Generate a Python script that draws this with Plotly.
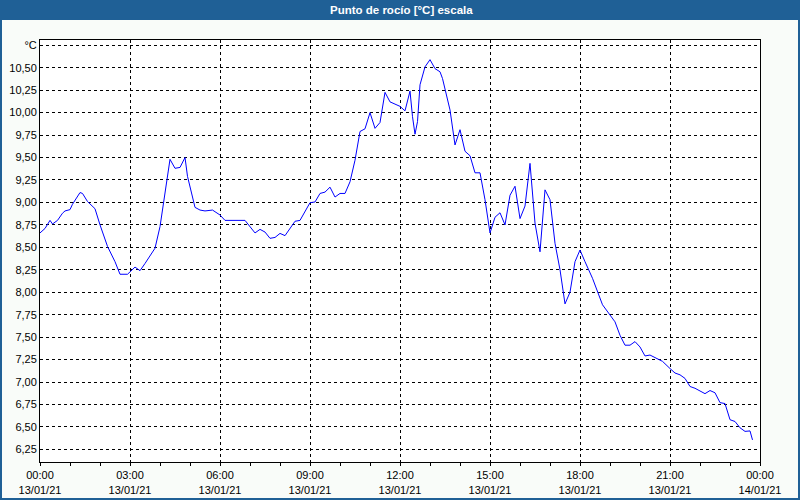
import plotly.graph_objects as go

# minutes after 2021-01-13 00:00
minutes = [0, 10, 20, 25, 35, 45, 50, 60, 65, 80, 85, 95, 110, 120, 135, 150, 160, 175,
           190, 200, 210, 230, 240, 250, 260, 270, 280, 290, 295, 310, 320, 330, 345, 360,
           370, 410, 430, 440, 450, 460, 470, 480, 490, 510, 520, 540, 550, 560, 570, 580,
           590, 600, 610, 620, 630, 640, 650, 660, 670, 680, 690, 700, 710, 720, 730, 740,
           745, 750, 755, 760, 770, 780, 790, 800, 805, 810, 820, 830, 840, 850, 860, 870,
           880, 890, 900, 910, 920, 930, 940, 950, 960, 970, 980, 990, 1000, 1010, 1020,
           1030, 1040, 1050, 1060, 1070, 1080, 1090, 1105, 1125, 1140, 1150, 1160, 1170,
           1180, 1190, 1200, 1210, 1220, 1230, 1245, 1260, 1270, 1280, 1290, 1300, 1310,
           1330, 1340, 1350, 1360, 1370, 1380, 1390, 1400, 1410, 1420, 1425]
dew_point = [8.66, 8.71, 8.80, 8.76, 8.80, 8.88, 8.905, 8.92, 8.98, 9.11, 9.10, 9.01, 8.93,
             8.75, 8.51, 8.34, 8.20, 8.20, 8.28, 8.24, 8.32, 8.49, 8.73, 9.10, 9.48, 9.38,
             9.39, 9.50, 9.29, 8.945, 8.915, 8.905, 8.915, 8.86, 8.80, 8.80, 8.66, 8.70,
             8.67, 8.60, 8.61, 8.655, 8.63, 8.79, 8.80, 8.997, 9.005, 9.10, 9.115, 9.17,
             9.06, 9.10, 9.10, 9.23, 9.47, 9.79, 9.82, 10.00, 9.825, 9.89, 10.226, 10.12,
             10.095, 10.07, 10.02, 10.24, 9.955, 9.76, 9.90, 10.31, 10.51, 10.59, 10.49,
             10.455, 10.38, 10.27, 10.03, 9.64, 9.81, 9.57, 9.52, 9.33, 9.33, 9.03, 8.66,
             8.835, 8.885, 8.75, 9.08, 9.18, 8.82, 8.96, 9.435, 8.77, 8.45, 9.14, 9.03,
             8.545, 8.25, 7.87, 8.00, 8.34, 8.47, 8.34, 8.155, 7.86, 7.75, 7.67, 7.52, 7.41,
             7.41, 7.45, 7.39, 7.29, 7.30, 7.27, 7.23, 7.15, 7.10, 7.08, 7.04, 6.95, 6.93,
             6.87, 6.905, 6.88, 6.77, 6.76, 6.58, 6.56, 6.49, 6.45, 6.455, 6.355]

y_tick_vals = [6.25, 6.50, 6.75, 7.00, 7.25, 7.50, 7.75, 8.00, 8.25, 8.50, 8.75, 9.00,
               9.25, 9.50, 9.75, 10.00, 10.25, 10.50, 10.75]
y_tick_text = ["6,25", "6,50", "6,75", "7,00", "7,25", "7,50", "7,75", "8,00", "8,25",
               "8,50", "8,75", "9,00", "9,25", "9,50", "9,75", "10,00", "10,25", "10,50", "°C"]
x_tick_vals = ["2021-01-13 00:00", "2021-01-13 03:00", "2021-01-13 06:00", "2021-01-13 09:00",
               "2021-01-13 12:00", "2021-01-13 15:00", "2021-01-13 18:00", "2021-01-13 21:00",
               "2021-01-14 00:00"]
x_tick_text = ["00:00<br>13/01/21", "03:00<br>13/01/21", "06:00<br>13/01/21", "09:00<br>13/01/21",
               "12:00<br>13/01/21", "15:00<br>13/01/21", "18:00<br>13/01/21", "21:00<br>13/01/21",
               "00:00<br>14/01/21"]
title_text = "Punto de rocío [°C] escala"

times = [f"2021-01-13 {m // 60:02d}:{m % 60:02d}" for m in minutes]

W, H = 800, 500
L, R, T, B = 40, 40, 40, 38
pw, ph = W - L - R, H - T - B


def px(x):
    return (x - L) / pw


def py(y):
    return (H - B - y) / ph


BLUE = "#1f6096"
fig = go.Figure(go.Scatter(x=times, y=dew_point, mode="lines",
                           line=dict(color="#0000ff", width=1), hoverinfo="skip"))

font = dict(family="Liberation Sans, Arial, sans-serif", size=11, color="#000000")
fig.update_layout(
    width=W, height=H, margin=dict(l=L, r=R, t=T, b=B, autoexpand=False),
    paper_bgcolor="#f9fcf9", plot_bgcolor="#ffffff",
    showlegend=False, font=font,
    shapes=[
        dict(type="rect", xref="paper", yref="paper", x0=px(0), x1=px(W), y0=py(20), y1=py(0),
             fillcolor=BLUE, line=dict(width=0), layer="above"),
        dict(type="rect", xref="paper", yref="paper", x0=px(1), x1=px(W - 1), y0=py(H - 1), y1=py(1),
             fillcolor="rgba(0,0,0,0)", line=dict(color=BLUE, width=2), layer="above"),
    ],
    annotations=[
        dict(text=f"<b>{title_text}</b>", xref="paper", yref="paper", x=px(401), y=py(10),
             xanchor="center", yanchor="middle", showarrow=False,
             font=dict(family="Liberation Sans, Arial, sans-serif", size=11.5, color="#ffffff")),
    ],
)
fig.update_xaxes(
    type="date", range=["2021-01-13 00:00", "2021-01-14 00:00"],
    tickvals=x_tick_vals, ticktext=x_tick_text, automargin=False,
    ticks="outside", ticklen=3, tickcolor="#000000",
    showgrid=True, gridcolor="#000000", gridwidth=1, griddash="3px,3px",
    showline=True, linecolor="#000000", linewidth=1, mirror=True,
    zeroline=False, tickfont=font,
    minor=dict(dtick=3600000, ticks="outside", ticklen=3, tickcolor="#000000", showgrid=False),
)
fig.update_yaxes(
    range=[6.109, 10.809], tickvals=y_tick_vals, ticktext=y_tick_text, automargin=False,
    ticks="", showgrid=True, gridcolor="#000000", gridwidth=1, griddash="3px,3px",
    showline=True, linecolor="#000000", linewidth=1, mirror=True,
    zeroline=False, tickfont=font,
)
fig.write_html("out.html")
